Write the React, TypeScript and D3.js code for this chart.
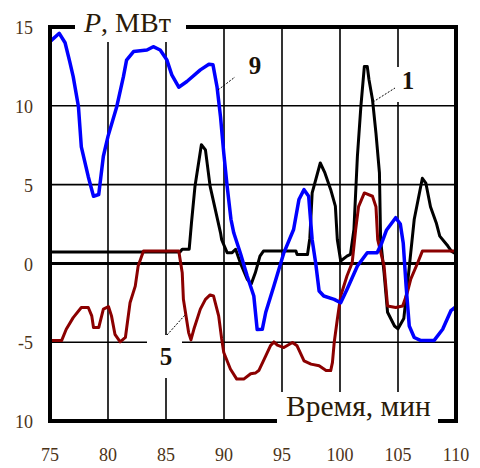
import React, { useRef, useEffect } from "react"
import * as d3 from "d3"

// axis ticks
const xTicks = [75, 80, 85, 90, 95, 100, 105, 110]
const yTicks = [15, 10, 5, 0, -5, -10]
const yTickLabels = ["15", "10", "5", "0", "-5", "10"]
const xGrid = [80, 85, 90, 95, 100, 105]
const yGrid = [10, 5, -5]

// series 9 (blue): [time, MW]
const series9: [number, number][] = [
  [75, 14.07], [75.8, 14.6], [76.3, 14.0], [76.7, 12.8], [77.0, 11.85], [77.45, 9.96],
  [77.7, 7.4], [78.3, 5.5], [78.75, 4.26], [79.2, 4.37], [79.6, 6.8], [80.0, 8.06],
  [80.76, 9.96], [81.33, 11.85], [81.6, 12.9], [82.2, 13.44], [83.36, 13.54], [83.9, 13.75],
  [84.5, 13.54], [85.08, 12.9], [85.5, 11.96], [86.1, 11.18], [86.8, 11.54], [87.96, 12.28],
  [88.7, 12.64], [89.05, 12.6], [89.4, 11.2], [89.7, 9.3], [89.98, 7.0], [90.27, 4.9],
  [90.6, 2.8], [90.84, 1.94], [91.4, 0.68], [92.0, -0.8], [92.57, -2.07], [92.86, -4.2],
  [93.3, -4.18], [93.6, -3.1], [94.3, -1.44], [95.16, 0.67], [96.0, 2.15], [96.46, 4.05],
  [96.9, 4.68], [97.3, 4.26], [97.6, 1.5], [97.9, 0.04], [98.2, -1.75], [98.6, -2.07],
  [99.5, -2.28], [100.06, -2.5], [100.6, -1.65], [101.5, -0.17], [102.35, 0.68], [103.2, 0.68],
  [103.6, 1.3], [104.0, 2.1], [104.8, 2.9], [105.2, 2.5], [105.45, 1.3], [105.7, -1.44],
  [105.97, -3.97], [106.4, -4.7], [106.98, -4.9], [108.1, -4.9], [108.85, -4.18], [109.56, -3.0],
  [110, -2.75],
]

// series 1 (black)
const series1: [number, number][] = [
  [75, 0.72], [86.2, 0.72], [86.4, 0.9], [87.0, 0.9], [87.2, 2.6], [87.5, 4.9],
  [88.05, 7.53], [88.4, 7.2], [88.8, 4.9], [89.7, 1.94], [89.8, 1.5], [90.27, 0.68],
  [90.7, 0.68], [91.0, 0.9], [91.4, 0.05], [92.0, -1.0], [92.35, -1.3], [92.7, -0.6],
  [93.1, 0.46], [93.4, 0.78], [96.2, 0.78], [96.3, 0.57], [97.2, 0.57], [97.4, 1.6],
  [97.6, 4.47], [98.3, 6.37], [98.7, 5.74], [99.2, 4.68], [99.6, 3.63], [99.77, 1.5],
  [99.9, 0.9], [100.06, 0.15], [100.6, 0.46], [100.9, 0.57], [101.2, 2.15], [101.5, 6.8],
  [101.8, 9.96], [102.1, 12.5], [102.35, 12.5], [102.5, 11.65], [102.8, 10.4], [103.1, 8.27],
  [103.4, 5.74], [103.5, 1.5], [103.8, -0.6], [104.1, -3.1], [104.7, -3.97], [105.0, -4.15],
  [105.5, -3.5], [105.8, -1.44], [106.1, 0.68], [106.4, 2.8], [107.1, 5.4], [107.4, 5.1],
  [107.8, 3.6], [108.3, 2.57], [108.6, 1.73], [109.3, 1.1], [109.6, 0.78], [110, 0.6],
]

// series 5 (dark red)
const series5: [number, number][] = [
  [75, -4.9], [76.0, -4.9], [76.4, -4.18], [77.0, -3.44], [77.7, -2.8], [78.3, -2.8],
  [78.6, -3.33], [78.75, -4.07], [79.2, -4.07], [79.6, -2.9], [80.04, -2.74], [80.3, -3.33],
  [80.6, -4.5], [81.05, -4.98], [81.5, -4.7], [81.9, -2.5], [82.35, -1.44], [82.6, -0.17],
  [83.06, 0.78], [86.1, 0.78], [86.4, -0.6], [86.5, -2.28], [86.95, -4.39], [87.15, -4.85],
  [87.4, -4.18], [87.96, -2.9], [88.4, -2.28], [88.8, -2.0], [89.1, -2.07], [89.54, -3.33],
  [89.8, -4.8], [89.98, -5.65], [90.55, -6.7], [91.1, -7.34], [91.7, -7.34], [92.3, -7.0],
  [92.7, -6.96], [93.0, -6.8], [93.6, -5.87], [94.0, -5.23], [94.3, -4.98], [94.6, -5.19],
  [95.16, -5.34], [95.9, -5.02], [96.3, -5.23], [96.9, -6.18], [97.5, -6.39], [98.2, -6.5],
  [98.8, -6.8], [99.2, -6.8], [99.35, -6.28], [99.5, -5.02], [99.77, -3.54], [100.06, -2.07],
  [100.6, -0.8], [101.05, 0.04], [101.35, 2.15], [101.6, 3.6], [102.1, 4.47], [102.8, 4.26],
  [103.1, 3.6], [103.25, 1.5], [103.8, -0.17], [104.1, -2.7], [104.8, -2.8], [105.4, -2.7],
  [105.8, -1.86], [106.1, -1.0], [106.7, 0.04], [107.1, 0.78], [110, 0.78],
]

const App = () => {
  const element = useRef(null)

  useEffect(() => {
    const root = d3.select(element.current)
    root.selectAll("*").remove()

    const svg = root.append("svg")
      .attr("width", 480)
      .attr("height", 468)
      .style("display", "block")

    const x = d3.scaleLinear().domain([75, 110]).range([50, 456])
    const y = d3.scaleLinear().domain([-10, 15]).range([421, 27])
    const font = "'Liberation Serif', 'Times New Roman', serif"
    const tickColor = "#4b3318"

    // grid
    svg.append("g").selectAll("line").data(xGrid).enter().append("line")
      .attr("x1", d => x(d)).attr("x2", d => x(d))
      .attr("y1", y(15)).attr("y2", y(-10))
      .attr("stroke", "#000").attr("stroke-width", 1.6)
    svg.append("g").selectAll("line").data(yGrid).enter().append("line")
      .attr("x1", x(75)).attr("x2", x(110))
      .attr("y1", d => y(d)).attr("y2", d => y(d))
      .attr("stroke", "#000").attr("stroke-width", 1.6)

    // white boxes behind labels
    const boxes = [
      [73, 0, 115, 42], [275, 392, 165, 40], [147, 335, 35, 43],
      [396, 67, 24, 35], [244, 56, 22, 24],
    ]
    svg.append("g").selectAll("rect").data(boxes).enter().append("rect")
      .attr("x", d => d[0]).attr("y", d => d[1])
      .attr("width", d => d[2]).attr("height", d => d[3])
      .attr("fill", "#fff")

    // zero line
    svg.append("line")
      .attr("x1", x(75)).attr("x2", x(110))
      .attr("y1", y(0)).attr("y2", y(0))
      .attr("stroke", "#000").attr("stroke-width", 3)

    const line = d3.line<[number, number]>()
      .x(d => x(d[0]))
      .y(d => y(d[1]))

    svg.append("path").datum(series1).attr("d", line)
      .attr("fill", "none").attr("stroke", "#000").attr("stroke-width", 3)
      .attr("stroke-linejoin", "round")
    svg.append("path").datum(series5).attr("d", line)
      .attr("fill", "none").attr("stroke", "#8b0000").attr("stroke-width", 3)
      .attr("stroke-linejoin", "round")
    svg.append("path").datum(series9).attr("d", line)
      .attr("fill", "none").attr("stroke", "#0000ff").attr("stroke-width", 3.5)
      .attr("stroke-linejoin", "round")

    // frame
    const frame = [
      [50, 27, 50, 421], [456, 27, 456, 421],
      [50, 27, 73, 27], [188, 27, 456, 27],
      [50, 421, 275, 421], [440, 421, 456, 421],
    ]
    svg.append("g").selectAll("line").data(frame).enter().append("line")
      .attr("x1", d => d[0]).attr("y1", d => d[1])
      .attr("x2", d => d[2]).attr("y2", d => d[3])
      .attr("stroke", "#000").attr("stroke-width", 4)
      .attr("stroke-linecap", "square")

    // tick labels
    svg.append("g").selectAll("text").data(yTicks).enter().append("text")
      .attr("x", 33).attr("y", d => y(d) + 3)
      .attr("text-anchor", "end").attr("dominant-baseline", "middle")
      .attr("font-family", font).attr("font-size", 18).attr("fill", tickColor)
      .text((d, i) => yTickLabels[i])
    svg.append("g").selectAll("text").data(xTicks).enter().append("text")
      .attr("x", d => x(d)).attr("y", 457)
      .attr("text-anchor", "middle").attr("dominant-baseline", "middle")
      .attr("font-family", font).attr("font-size", 18).attr("fill", tickColor)
      .text(d => d)

    // axis titles
    const yt = svg.append("text")
      .attr("x", 84).attr("y", 32)
      .attr("font-family", font).attr("font-size", 28).attr("fill", "#2a1a08")
    yt.append("tspan").attr("font-style", "italic").text("P")
    yt.append("tspan").text(", МВт")

    svg.append("text")
      .attr("x", 286).attr("y", 416)
      .attr("font-family", font).attr("font-size", 29.5).attr("fill", "#2a1a08")
      .text("Время, мин")

    // series labels with leaders
    const labels = [
      { t: "9", x: 255, y: 68, l: [218, 90, 235, 77] },
      { t: "1", x: 408, y: 83, l: [373, 102, 395, 88] },
      { t: "5", x: 166, y: 359, l: [167, 335, 185, 315] },
    ]
    labels.forEach(d => {
      svg.append("line")
        .attr("x1", d.l[0]).attr("y1", d.l[1]).attr("x2", d.l[2]).attr("y2", d.l[3])
        .attr("stroke", "#000").attr("stroke-width", 1).attr("stroke-dasharray", "2,1.5")
      svg.append("text")
        .attr("x", d.x).attr("y", d.y)
        .attr("text-anchor", "middle").attr("dominant-baseline", "middle")
        .attr("font-family", font).attr("font-size", 25).attr("font-weight", "bold")
        .attr("fill", "#1a1208")
        .text(d.t)
    })

    return () => {
      root.selectAll("*").remove()
    }
  }, [])

  return (
    <div ref={element} style={{ position: "absolute", left: 0, top: 0, width: 480, height: 468 }}></div>
  )
}

export default App
